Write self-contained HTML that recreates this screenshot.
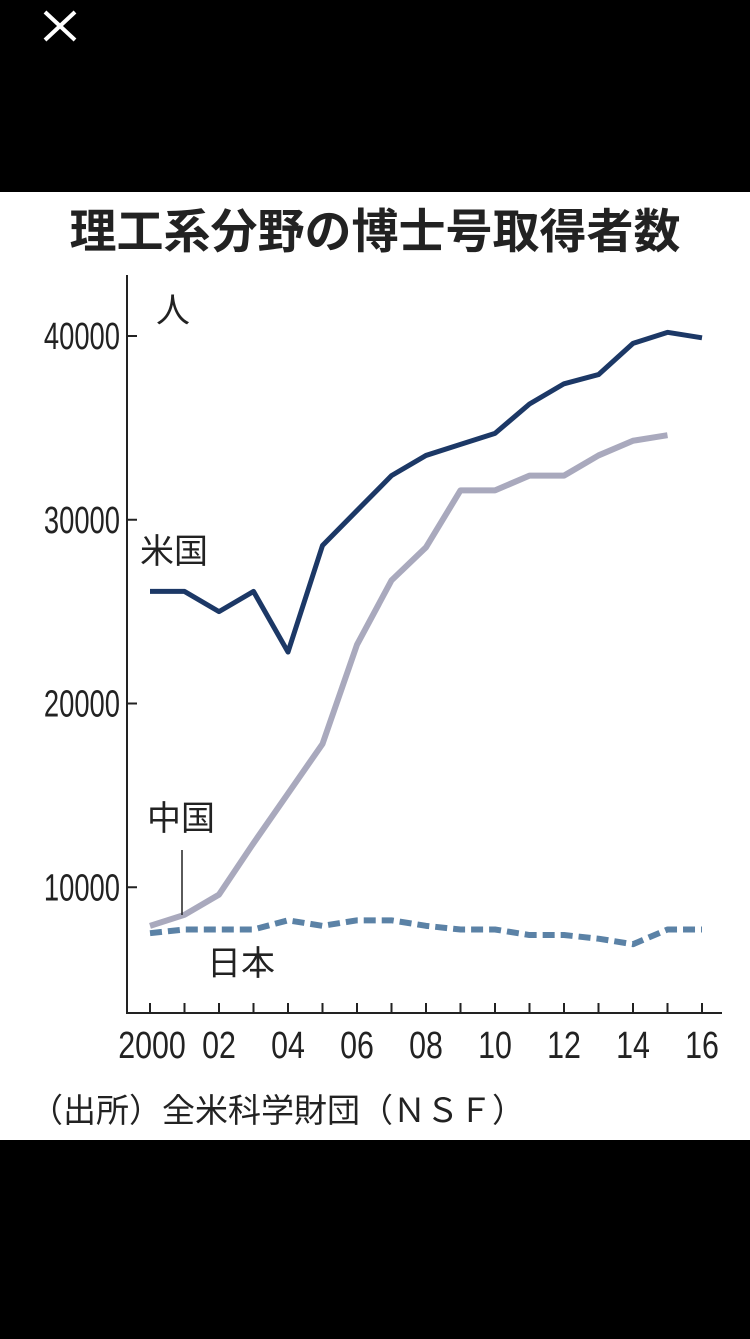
<!DOCTYPE html>
<html><head><meta charset="utf-8"><style>
body{margin:0;width:750px;height:1334px;background:#000;overflow:hidden;font-family:"Liberation Sans","Noto Sans CJK JP",sans-serif}
</style></head><body>
<svg width="750" height="1334" xmlns="http://www.w3.org/2000/svg">
<g><line x1="45" y1="12" x2="75" y2="40" stroke="#fff" stroke-width="4"/><line x1="75" y1="12" x2="45" y2="40" stroke="#fff" stroke-width="4"/></g>
<rect x="0" y="192" width="750" height="948" fill="#fff"/>
<text x="375" y="248" text-anchor="middle" font-size="47" font-weight="bold" fill="#222" font-family="Noto Sans CJK JP,sans-serif">理工系分野の博士号取得者数</text>
<text x="156" y="322" font-size="34" fill="#222" font-family="Noto Sans CJK JP,sans-serif">人</text>
<g id="axes"></g>
<g id="series"></g>
<text x="140" y="563" font-size="34" fill="#222" font-family="Noto Sans CJK JP,sans-serif">米国</text>
<text x="147" y="830" font-size="34" fill="#222" font-family="Noto Sans CJK JP,sans-serif">中国</text>
<line x1="182" y1="850" x2="182" y2="915" stroke="#222" stroke-width="1.5"/>
<text x="207" y="975" font-size="34" fill="#222" font-family="Noto Sans CJK JP,sans-serif">日本</text>
<text x="30" y="1122" font-size="33" fill="#222" font-family="Noto Sans CJK JP,sans-serif">（出所）全米科学財団（ＮＳＦ）</text>
</svg>
<script>
const years=[2000,2001,2002,2003,2004,2005,2006,2007,2008,2009,2010,2011,2012,2013,2014,2015,2016];
const usValues=[26100,26100,25000,26100,22800,28600,30500,32400,33500,34100,34700,36300,37400,37900,39600,40200,39900];
const chinaValues=[7900,8500,9600,12400,15100,17800,23200,26700,28500,31600,31600,32400,32400,33500,34300,34600];
const japanValues=[7500,7700,7700,7700,8200,7900,8200,8200,7900,7700,7700,7400,7400,7200,6900,7700,7700];
const yTicks=[10000,20000,30000,40000];
const yTickLabels=["10000","20000","30000","40000"];
const xTickLabels=["2000","02","04","06","08","10","12","14","16"];
const NS="http://www.w3.org/2000/svg";
const x=yr=>150+(yr-2000)*34.5;
const y=v=>1071-v*0.018375;
function mk(tag,attrs,parent){const e=document.createElementNS(NS,tag);for(const k in attrs)e.setAttribute(k,attrs[k]);parent.appendChild(e);return e;}
const ax=document.getElementById('axes');
let e=mk('line',{x1:127,y1:275,x2:127,y2:1013,stroke:'#222','stroke-width':2},ax);


e=mk('line',{x1:126,y1:1013,x2:722,y2:1013,stroke:'#222','stroke-width':2},ax);


yTicks.forEach((v,i)=>{
 let t=mk('line',{x1:127,y1:y(v),x2:137,y2:y(v),stroke:'#222','stroke-width':2},ax);
 
 
 let l=mk('text',{x:0,y:0,'font-size':38,fill:'#222','text-anchor':'end',transform:`translate(120,${y(v)+13}) scale(0.72,1)`},ax);
 l.textContent=yTickLabels[i];
 
 
});
years.forEach(yr=>{
 let t=mk('line',{x1:x(yr),y1:1003,x2:x(yr),y2:1013,stroke:'#222','stroke-width':2},ax);
 
 
});
xTickLabels.forEach((s,i)=>{
 const yr=2000+i*2;
 const cx=i===0?x(yr)+2:x(yr);
 let l=mk('text',{x:0,y:0,'font-size':38,fill:'#222','text-anchor':'middle',transform:`translate(${cx},${1058}) scale(0.8,1)`},ax);
 l.textContent=s;
 
 
});
const sg=document.getElementById('series');
function line(vals,color,w,dash,name){
 const d=vals.map((v,i)=>(i?'L':'M')+x(years[i])+','+y(v)).join(' ');
 const p=mk('path',{d:d,fill:'none',stroke:color,'stroke-width':w,'stroke-linejoin':'round'},sg);
 if(dash)p.setAttribute('stroke-dasharray',dash);
 
 
}
line(chinaValues,'#a9a9bd',6,null,'china-line');
line(japanValues,'#5b82a6',6,'12 6','japan-line');
line(usValues,'#1c3866',5,null,'us-line');
</script>
</body></html>
